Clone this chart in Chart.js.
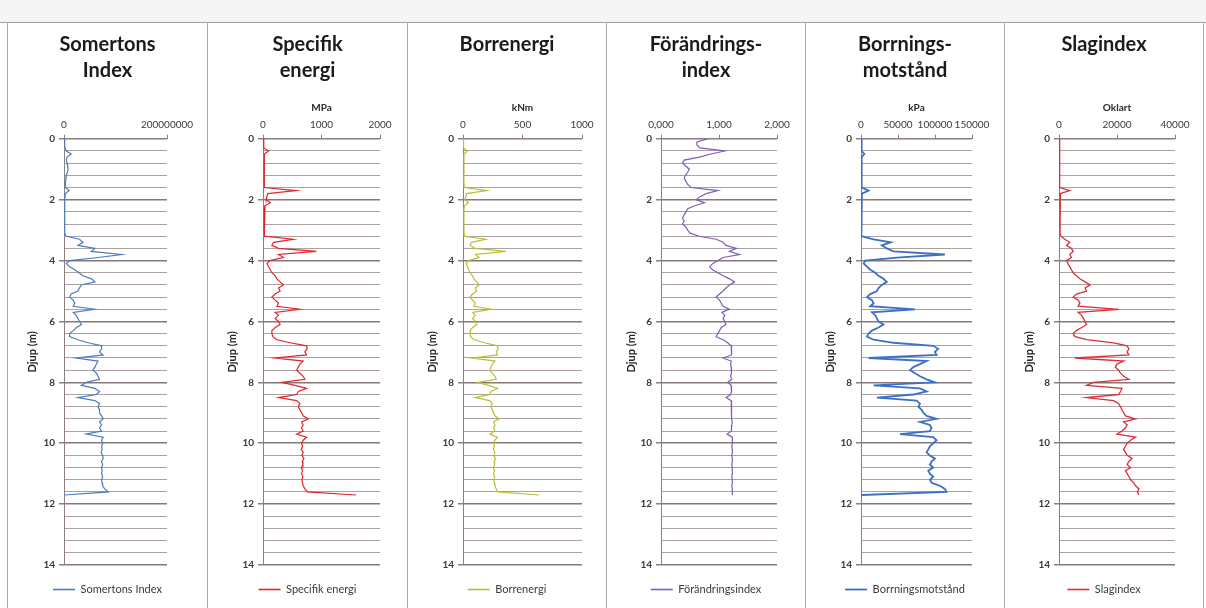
<!DOCTYPE html>
<html lang="sv">
<head>
<meta charset="utf-8">
<title>Sonderingsparametrar mot djup</title>
<script src="https://cdn.jsdelivr.net/npm/chart.js@4.4.1/dist/chart.umd.min.js"></script>
<style>
  html, body { margin: 0; padding: 0; background: #fff; }
  #sheet { position: relative; width: 1206px; height: 608px; overflow: hidden; background: #fff; }
  .band { position: absolute; left: 0; top: 0; width: 1206px; height: 22px; background: #f5f5f5; border-bottom: 1px solid #a89e9c; }
  .vline { position: absolute; top: 22px; width: 1px; height: 586px; background: #b3aaa8; z-index: 2; }
  canvas { position: absolute; top: 23px; z-index: 1; }
</style>
</head>
<body>
<div id="sheet">
  <div class="band"></div>
  <div class="vline" style="left:7px"></div>
  <div class="vline" style="left:207px"></div>
  <div class="vline" style="left:407px"></div>
  <div class="vline" style="left:606px"></div>
  <div class="vline" style="left:805px"></div>
  <div class="vline" style="left:1004px"></div>
  <div class="vline" style="left:1203px"></div>
</div>
<script>
// djup (m) for every sample, shared by all six logs
const depth = [
  0, 0.1, 0.2, 0.3, 0.4, 0.5, 0.6, 0.7, 0.8, 0.9,
  1, 1.1, 1.2, 1.3, 1.4, 1.5, 1.6, 1.7, 1.8, 1.9,
  2, 2.1, 2.2, 2.3, 2.4, 2.5, 2.6, 2.7, 2.8, 2.9,
  3, 3.1, 3.2, 3.3, 3.4, 3.5, 3.6, 3.7, 3.8, 3.9,
  4, 4.1, 4.2, 4.3, 4.4, 4.5, 4.6, 4.7, 4.8, 4.9,
  5, 5.1, 5.2, 5.3, 5.4, 5.5, 5.6, 5.7, 5.8, 5.9,
  6, 6.1, 6.2, 6.3, 6.4, 6.5, 6.6, 6.7, 6.8, 6.9,
  7, 7.1, 7.2, 7.3, 7.4, 7.5, 7.6, 7.7, 7.8, 7.9,
  8, 8.1, 8.2, 8.3, 8.4, 8.5, 8.6, 8.7, 8.8, 8.9,
  9, 9.1, 9.2, 9.3, 9.4, 9.5, 9.6, 9.7, 9.8, 9.9,
  10, 10.1, 10.2, 10.3, 10.4, 10.5, 10.6, 10.7, 10.8, 10.9,
  11, 11.1, 11.2, 11.3, 11.4, 11.5, 11.6, 11.7
];

const somertonsIndex = [
  1.3e6, 1.3e6, 1.3e6, 2e6, 4.5e6, 14e6, 6e6, 4.5e6, 6e6, 7e6,
  8e6, 6.5e6, 4.5e6, 4e6, 3e6, 2.6e6, 2.6e6, 10e6, 2.6e6, 2e6,
  1.3e6, 1.6e6, 1.2e6, 1.3e6, 1.5e6, 1.1e6, 1.3e6, 1.4e6, 1.2e6, 1.3e6,
  1.5e6, 1.3e6, 4.5e6, 30e6, 37e6, 27e6, 60e6, 53e6, 112e6, 66e6,
  11e6, 4.5e6, 11e6, 21e6, 29e6, 37e6, 53e6, 60e6, 34e6, 30e6,
  27e6, 14e6, 11e6, 18e6, 21e6, 18e6, 60e6, 18e6, 24e6, 27e6,
  30e6, 34e6, 24e6, 18e6, 11e6, 11e6, 27e6, 47e6, 73e6, 73e6,
  69e6, 76e6, 24e6, 66e6, 63e6, 60e6, 56e6, 63e6, 66e6, 69e6,
  43e6, 34e6, 60e6, 69e6, 63e6, 27e6, 60e6, 69e6, 66e6, 69e6,
  69e6, 73e6, 76e6, 69e6, 73e6, 69e6, 73e6, 43e6, 76e6, 73e6,
  75e6, 73e6, 74e6, 72e6, 75e6, 76e6, 73e6, 75e6, 73e6, 74e6,
  73e6, 75e6, 73e6, 74e6, 75e6, 79e6, 86e6, 1e6
];

const specifikEnergi = [
  11, 11, 11, 17, 96, 23, 20, 22, 25, 23,
  21, 24, 22, 20, 23, 25, 28, 563, 79, 68,
  56, 124, 34, 23, 22, 20, 23, 21, 22, 23,
  22, 24, 28, 518, 180, 152, 265, 913, 265, 349,
  113, 68, 96, 124, 152, 208, 237, 293, 349, 265,
  293, 208, 152, 208, 265, 237, 631, 208, 265, 208,
  265, 293, 208, 152, 152, 169, 237, 462, 744, 755,
  716, 744, 208, 687, 631, 603, 575, 631, 687, 716,
  321, 547, 744, 603, 575, 265, 575, 631, 603, 631,
  659, 687, 772, 659, 687, 659, 687, 575, 744, 687,
  659, 676, 654, 687, 665, 699, 670, 682, 654, 676,
  659, 682, 665, 676, 687, 716, 755, 1589
];

const borrenergi = [
  4, 4, 4, 6, 35, 9, 8, 8, 9, 8,
  8, 9, 8, 7, 8, 9, 10, 200, 30, 25,
  20, 45, 12, 8, 8, 7, 8, 8, 8, 8,
  8, 9, 10, 190, 70, 60, 100, 360, 105, 135,
  45, 27, 38, 48, 60, 80, 92, 115, 135, 103,
  115, 80, 60, 80, 103, 92, 240, 80, 103, 80,
  103, 115, 80, 60, 60, 66, 92, 180, 290, 295,
  280, 290, 80, 268, 246, 235, 225, 246, 268, 280,
  125, 213, 290, 235, 225, 103, 225, 246, 235, 246,
  257, 268, 301, 257, 268, 257, 268, 225, 290, 268,
  257, 264, 255, 268, 259, 273, 261, 266, 255, 264,
  257, 266, 259, 264, 268, 279, 294, 640
];

const forandringsindex = [
  0.80, 0.62, 0.62, 0.67, 1.10, 0.86, 0.66, 0.40, 0.37, 0.43,
  0.49, 0.46, 0.42, 0.40, 0.43, 0.46, 0.52, 0.98, 0.78, 0.67,
  0.61, 0.75, 0.58, 0.46, 0.43, 0.40, 0.37, 0.40, 0.37, 0.43,
  0.46, 0.50, 0.66, 0.95, 1.07, 1.12, 1.30, 1.18, 1.35, 1.07,
  0.98, 0.89, 0.84, 0.89, 0.98, 1.07, 1.18, 1.27, 1.18, 1.12,
  1.07, 1.01, 0.95, 1.01, 1.04, 1.07, 1.18, 1.05, 1.10, 1.07,
  1.10, 1.12, 1.04, 1.01, 0.98, 0.95, 1.07, 1.15, 1.21, 1.22,
  1.21, 1.22, 1.07, 1.21, 1.20, 1.21, 1.22, 1.21, 1.20, 1.22,
  1.15, 1.21, 1.22, 1.21, 1.20, 1.12, 1.21, 1.22, 1.21, 1.22,
  1.22, 1.21, 1.22, 1.23, 1.22, 1.21, 1.22, 1.14, 1.23, 1.23,
  1.23, 1.22, 1.23, 1.23, 1.22, 1.23, 1.23, 1.22, 1.23, 1.23,
  1.23, 1.22, 1.23, 1.23, 1.22, 1.23, 1.23, 1.23
];

const borrningsmotstand = [
  900, 900, 900, 900, 900, 4500, 900, 900, 900, 900,
  900, 900, 900, 900, 900, 900, 900, 10300, 1300, 450,
  450, 450, 450, 450, 450, 450, 450, 450, 450, 450,
  450, 450, 1300, 17000, 40300, 28200, 34900, 43900, 113300, 48400,
  5800, 3600, 8100, 12500, 19300, 23700, 30400, 34900, 28200, 23700,
  21500, 12500, 8100, 14800, 17000, 12500, 73000, 14800, 19300, 21500,
  23700, 30400, 23700, 14800, 10300, 8100, 17000, 43900, 97600, 104300,
  99900, 102100, 10300, 88700, 79700, 70800, 66300, 73000, 79700, 88700,
  99900, 17000, 79700, 88700, 70800, 21500, 75200, 79700, 77500, 81900,
  84200, 88700, 102100, 79700, 93100, 95400, 93100, 52800, 97600, 102100,
  97600, 93100, 90900, 88700, 93100, 99900, 95400, 93100, 97600, 90900,
  93100, 97600, 93100, 95400, 106600, 113300, 115500, 450
];

const slagindex = [
  230, 230, 230, 230, 230, 230, 230, 230, 230, 230,
  230, 230, 230, 230, 230, 230, 230, 3700, 470, 350,
  350, 350, 350, 350, 350, 350, 350, 350, 350, 350,
  350, 350, 700, 2000, 3700, 2600, 4300, 4900, 3700, 4300,
  2600, 3100, 3700, 4300, 4900, 6000, 7200, 9000, 10700, 9000,
  9500, 6000, 4900, 6600, 7200, 6600, 20600, 6600, 7800, 8400,
  9000, 9500, 7800, 6000, 4900, 5500, 9500, 18800, 23500, 24100,
  23500, 24100, 5500, 22300, 20000, 19400, 20600, 21200, 22300, 24100,
  11900, 9500, 21700, 21200, 20600, 9500, 18800, 20600, 21200, 21700,
  22300, 22900, 26400, 22300, 23500, 22900, 21700, 20000, 26400, 24700,
  23500, 22900, 22300, 22900, 23500, 25200, 24100, 23500, 24700, 22900,
  23500, 24100, 24700, 25800, 26400, 27600, 27000, 27600
];

// x pixel of each panel's left border; the last entry closes the sheet
const edges = [7, 207, 407, 606, 805, 1004, 1203];

const plain = (v) => String(v);
const kommatecken = (v) => v.toFixed(3).replace('.', ',');

const panels = [
  { title: ['Somertons', 'Index'], unit: '', name: 'Somertons Index', values: somertonsIndex,
    max: 200000000, step: 200000000, fmt: plain, color: '#4d7cc0', lw: 1.2, yW: 56, rightGap: 40 },
  { title: ['Specifik', 'energi'], unit: 'MPa', name: 'Specifik energi', values: specifikEnergi,
    max: 2000, step: 1000, fmt: plain, color: '#e0262d', lw: 1.2, yW: 55, rightGap: 27 },
  { title: ['Borrenergi', ''], unit: 'kNm', name: 'Borrenergi', values: borrenergi,
    max: 1000, step: 500, fmt: plain, color: '#bdbd3a', lw: 1.2, yW: 55, rightGap: 24 },
  { title: ['Förändrings-', 'index'], unit: '', name: 'Förändringsindex', values: forandringsindex,
    max: 2, step: 1, fmt: kommatecken, color: '#7d5fb8', lw: 1.2, yW: 54, rightGap: 28 },
  { title: ['Borrnings-', 'motstånd'], unit: 'kPa', name: 'Borrningsmotstånd', values: borrningsmotstand,
    max: 150000, step: 50000, fmt: plain, color: '#3d70c4', lw: 1.8, yW: 55, rightGap: 32 },
  { title: ['Slagindex', ''], unit: 'Oklart', name: 'Slagindex', values: slagindex,
    max: 40000, step: 20000, fmt: plain, color: '#d8303a', lw: 1.3, yW: 54, rightGap: 28 }
];

Chart.defaults.font.family = "Lato, 'Open Sans', 'DejaVu Sans', sans-serif";
Chart.defaults.color = '#3a3a3a';

const AXIS = '#8c7f7d';
const isMajor = (v) => Math.abs(v / 2 - Math.round(v / 2)) < 1e-6;
const baseLabels = Chart.defaults.plugins.legend.labels.generateLabels;

const sheet = document.getElementById('sheet');

panels.forEach((p, i) => {
  const canvas = document.createElement('canvas');
  canvas.width = edges[i + 1] - edges[i] - 1;
  canvas.height = 582;
  canvas.style.left = (edges[i] + 1) + 'px';
  sheet.appendChild(canvas);

  new Chart(canvas.getContext('2d'), {
    type: 'scatter',
    data: {
      datasets: [{
        label: p.name,
        data: depth.map((d, k) => ({ x: p.values[k], y: d })),
        showLine: true,
        borderColor: p.color,
        backgroundColor: p.color,
        borderWidth: p.lw,
        pointRadius: 0,
        pointStyle: 'line',
        tension: 0
      }]
    },
    options: {
      responsive: false,
      animation: false,
      devicePixelRatio: 1,
      events: [],
      layout: { padding: 0 },
      scales: {
        x: {
          type: 'linear',
          position: 'top',
          min: 0,
          max: p.max,
          afterFit: (s) => { s.height = 54.8; },
          ticks: { stepSize: p.step, autoSkip: false, callback: p.fmt, padding: 4, maxRotation: 0, font: { size: 10 }, color: '#3a3a3a' },
          grid: { display: true, drawOnChartArea: false, drawTicks: true, tickLength: 4, color: AXIS },
          border: { display: true, color: AXIS, width: 1 },
          title: { display: !!p.unit, text: p.unit, font: { size: 10, weight: 'bold' }, color: '#2a2a2a', padding: { top: 18, bottom: 0 } }
        },
        y: {
          type: 'linear',
          position: 'left',
          min: 0,
          max: 14,
          reverse: true,
          afterFit: (s) => { s.width = p.yW; },
          ticks: {
            stepSize: 0.4,
            autoSkip: false,
            padding: 4,
            font: { size: 10, weight: 'bold' },
            color: '#3a3a3a',
            callback: (v) => (isMajor(v) ? String(Math.round(v)) : '')
          },
          grid: {
            drawTicks: true,
            tickLength: 5,
            color: (c) => (isMajor(c.tick.value) ? '#857876' : '#aaa1a0'),
            lineWidth: (c) => (isMajor(c.tick.value) ? 1.5 : 1),
            tickColor: (c) => (isMajor(c.tick.value) ? AXIS : 'rgba(0,0,0,0)')
          },
          border: { display: true, color: AXIS, width: 1 },
          title: { display: true, text: 'Djup (m)', font: { size: 11, weight: 'bold' }, color: '#222', padding: { top: 18, bottom: 0 } }
        },
        // empty right-hand axis that only reserves the blank strip beside the plot
        gap: {
          type: 'linear',
          position: 'right',
          display: true,
          afterFit: (s) => { s.width = p.rightGap; },
          ticks: { display: false },
          grid: { display: false },
          border: { display: false }
        }
      },
      plugins: {
        title: {
          display: true,
          text: p.title,
          color: '#1b1b1b',
          font: { size: 20, weight: 'bold', lineHeight: 1.3 },
          padding: { top: 9, bottom: 0 }
        },
        legend: {
          display: true,
          position: 'bottom',
          labels: {
            usePointStyle: true,
            pointStyle: 'line',
            pointStyleWidth: 22,
            boxHeight: 10,
            padding: 19,
            color: '#3a3a3a',
            font: { size: 11 },
            // slightly heavier stroke for the key so thin series stay visible
            generateLabels: (chart) => baseLabels(chart).map((item) => ({
              ...item,
              strokeStyle: p.color,
              lineWidth: Math.max(p.lw, 1.6)
            }))
          }
        },
        tooltip: { enabled: false }
      }
    }
  });
});
</script>
</body>
</html>
